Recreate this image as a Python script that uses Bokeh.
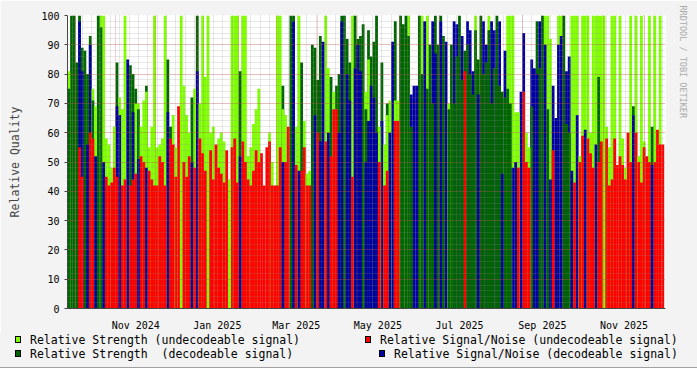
import numpy as np
import pandas as pd
from bokeh.plotting import figure
from bokeh.layouts import column
from bokeh.models import (ColumnDataSource, Range1d, FixedTicker, SingleIntervalTicker,
                          DatetimeTickFormatter, Title, Div)
from bokeh.embed import file_html
from bokeh.resources import INLINE

_ = None
START = "2024-09-26"
STEP_DAYS = 2
RANGE_DAYS = 447

# Relative Strength (undecodeable signal)
strength_undec = [
    81, _, _, _, _, _, _, _, _, 75,
    69, _, 100, 100, 58, 56, 48, 62, _, 72,
    68, 100, _, _, _, 70, 70, 62, 71, 74,
    55, 62, 100, 55, 56, 58, 100, _, _, 66,
    55, _, 100, 76, 66, 60, _, 75, _, 70,
    100, 79, 100, 60, 62, _, 58, 60, 57, _,
    44, 100, 100, 100, _, 100, 100, 52, 55, 63,
    68, 75, _, _, _, 60, 50, _, 100, 100,
    68, 66, _, _, _, 62, 100, _, 64, 46,
    47, _, _, _, _, _, 100, 82, _, 74,
    _, _, _, _, _, _, 100, _, _, _,
    _, 74, 85, _, _, _, 62, _, 56, 66,
    71, _, 71, 71, _, _, _, 100, _, _,
    _, _, 100, _, 100, _, _, _, _, _,
    _, _, 70, _, _, _, _, _, _, _,
    _, _, 100, _, _, _, _, 100, _, _,
    _, _, _, _, 100, 100, 100, 67, 67, _,
    _, 60, 55, _, _, _, _, _, 100, 100,
    92, _, _, 100, 100, _, _, _, 100, 100,
    100, 52, 100, 100, 100, 60, 100, 100, 100, 100,
    100, 62, 55, 100, 100, _, 100, 58, 48, _,
    100, _, 100, 52, 100, 57, _, 100, _, 100,
    _, 100, _,
]

# Relative Signal/Noise (undecodeable signal)
snr_undec = [
    _, _, _, _, 55, 45, _, _, 60, 58,
    _, _, _, _, 45, 42, 43, 48, 45, _,
    42, 44, _, 42, 44, 46, _, 52, 50, _,
    47, 44, 42, 42, 52, 50, 42, _, 58, 56,
    45, 69, _, 50, 45, 52, _, 48, _, 58,
    53, 47, _, 54, 44, 56, 48, 46, 43, 54,
    _, 55, 58, 43, _, 57, 50, 44, 42, 47,
    54, 50, 53, 42, 55, 57, 42, 42, 42, 55,
    _, 50, 62, _, _, 49, _, 47, 55, 42,
    42, _, _, 60, _, _, 57, _, 52, 68,
    68, _, _, _, _, _, 45, _, _, _,
    _, _, _, _, _, _, 50, _, 42, 47,
    _, _, 64, 64, _, _, _, _, _, _,
    _, _, _, _, _, _, _, _, _, _,
    _, _, _, _, _, _, _, _, 81, _,
    _, _, _, _, _, _, _, _, _, _,
    _, _, _, _, _, _, _, _, 48, _,
    74, 50, 48, _, _, _, _, _, _, _,
    _, 54, _, _, _, _, _, _, _, 43,
    _, 50, 59, _, 58, 53, 48, _, 50, 57,
    _, 58, 42, 44, 58, 49, 52, 49, 44, 60,
    50, _, 60, 50, 43, 55, 52, 50, _, 50,
    61, 56, 56,
]

# Relative Strength (decodeable signal)
strength_dec = [
    75, 100, 100, 84, 100, 89, 88, 80, 93, 71,
    _, 100, 96, _, _, _, _, _, 84, _,
    _, _, _, 83, 80, 75, 68, _, _, 76,
    _, _, _, _, _, _, _, 85, 62, _,
    _, _, _, _, _, _, 72, _, 100, _,
    _, _, _, _, _, _, _, _, _, _,
    _, _, _, _, 81, _, _, _, _, _,
    _, _, _, _, _, _, _, _, _, _,
    76, _, _, 100, 100, _, _, 84, _, _,
    _, 90, 89, 78, 93, _, _, _, 79, _,
    76, 80, 100, 100, 92, 84, _, 100, 92, 93,
    97, 68, 95, 86, 91, 100, _, 84, _, 70,
    _, _, 98, _, 100, 97, 100, 93, 62, _,
    _, 100, 80, _, 75, 90, 70, 100, 90, 100,
    93, _, 68, 90, 70, 86, 100, 78, 88, 90,
    80, 73, 95, 85, 100, 80, 84, 95, 70, 82,
    100, 76, 74, 72, 75, 70, _, _, _, _,
    _, _, _, 69, _, 98, 82, 100, _, 68,
    _, _, _, _, _, 100, 63, 60, _, _,
    _, _, _, _, _, _, _, _, 79, _,
    _, _, _, _, _, _, _, _, _, _,
    _, 69, _, _, _, _, _, _, 62, _,
    _, _, _,
]

# Relative Signal/Noise (decodeable signal)
snr_dec = [
    _, _, _, _, 98, 81, _, 56, 90, _,
    52, _, _, 50, _, _, _, _, 69, 66,
    _, _, 85, _, 67, _, 51, _, _, 48,
    _, _, _, _, _, _, _, 67, _, _,
    _, _, _, _, _, _, 50, _, 81, _,
    _, _, _, _, _, _, _, _, _, _,
    _, _, _, _, 52, _, _, _, _, _,
    _, _, _, _, _, _, _, _, _, _,
    50, _, _, _, 98, _, 47, _, _, _,
    _, _, 66, _, 57, 91, _, 60, _, _,
    _, 60, 98, _, 80, 71, _, 82, 90, 81,
    _, 50, 64, 76, 72, 60, _, 64, _, _,
    60, 91, _, _, _, _, _, _, 73, 76,
    76, _, _, 98, _, _, 98, 87, _, 98,
    _, 91, _, _, 98, 97, _, 93, _, 98,
    95, 81, _, 73, _, 98, 90, _, 98, 95,
    _, 98, 46, 88, _, _, 48, 50, _, 74,
    94, _, _, 85, 82, 80, 98, _, 90, _,
    44, 76, 65, 90, 93, _, 81, 86, 47, _,
    66, _, _, 61, _, _, _, 56, _, _,
    _, _, _, _, _, _, _, _, _, _,
    _, 66, _, _, _, _, _, _, 49, _,
    _, _, _,
]

LABEL_MONTHS = ["2024-11", "2025-01", "2025-03", "2025-05", "2025-07", "2025-09", "2025-11"]
LEGEND_LABELS = [
    "Relative Strength (undecodeable signal)",
    "Relative Signal/Noise (undecodeable signal)",
    "Relative Strength  (decodeable signal)",
    "Relative Signal/Noise (decodeable signal)",
]
COLORS = ["#80ff00", "#ff0000", "#006400", "#0000a0"]
SERIES = [strength_undec, snr_undec, strength_dec, snr_dec]

MONO = "DejaVu Sans Mono"
DAY_MS = 86400000.0
BG = "#f3f3f3"

start = pd.Timestamp(START)
end = start + pd.Timedelta(days=RANGE_DAYS)


def ms(ts):
    return float(pd.Timestamp(ts).value // 10**6)


xs, tops, cols = [], [], []
for vals, col in zip(SERIES, COLORS):
    for i, v in enumerate(vals):
        if v is None:
            continue
        xs.append(ms(start) + (STEP_DAYS * i + STEP_DAYS / 2) * DAY_MS)
        tops.append(v)
        cols.append(col)
order = np.argsort(-np.array(tops, dtype=float), kind="stable")
src = ColumnDataSource(dict(
    x=[xs[k] for k in order],
    top=[tops[k] for k in order],
    color=[cols[k] for k in order],
))

p = figure(width=697, height=333, x_axis_type="datetime", output_backend="svg",
           toolbar_location=None, x_range=Range1d(start, end), y_range=Range1d(0, 100),
           min_border_left=67, min_border_right=30, min_border_top=15, min_border_bottom=18)
p.background_fill_color = "white"
p.border_fill_color = BG
p.outline_line_color = None

p.vbar(x="x", top="top", bottom=0, width=STEP_DAYS * DAY_MS * 1.04, source=src,
       fill_color="color", line_color=None)

# grids (drawn above the data as rrdtool does)
month_starts = [ms(d) for d in pd.date_range("2024-10-01", "2025-12-01", freq="MS")]
mondays = [ms(d) for d in pd.date_range(start, end, freq="W-MON")]
p.xgrid.ticker = FixedTicker(ticks=month_starts, minor_ticks=mondays)
p.ygrid.ticker = SingleIntervalTicker(interval=10, num_minor_ticks=5)
for g in (p.xgrid, p.ygrid):
    g.level = "overlay"
    g.grid_line_color = "#d03030"
    g.grid_line_alpha = 0.45
    g.grid_line_dash = "1 1"
    g.minor_grid_line_color = "#8c8c8c"
    g.minor_grid_line_alpha = 0.4
    g.minor_grid_line_dash = "1 1"

# x axis
p.xaxis.ticker = FixedTicker(ticks=[ms(m + "-01") + 15 * DAY_MS for m in LABEL_MONTHS])
p.xaxis.formatter = DatetimeTickFormatter(days="%b %Y", months="%b %Y", years="%b %Y")
p.xaxis.major_tick_line_color = None
p.xaxis.minor_tick_line_color = None
p.xaxis.major_label_standoff = 5
p.xaxis.axis_line_color = "#444444"

# y axis
p.yaxis.ticker = SingleIntervalTicker(interval=10, num_minor_ticks=5)
p.yaxis.minor_tick_line_color = None
p.yaxis.major_tick_out = 3
p.yaxis.major_tick_in = 0
p.yaxis.major_tick_line_color = "#444444"
p.yaxis.axis_line_color = "#444444"
p.yaxis.major_label_standoff = 4
p.yaxis.axis_label = "Relative Quality"
p.yaxis.axis_label_standoff = 16
p.yaxis.axis_label_text_font = MONO
p.yaxis.axis_label_text_font_style = "normal"
p.yaxis.axis_label_text_font_size = "11.5px"
for ax in (p.xaxis, p.yaxis):
    ax.major_label_text_font = MONO
    ax.major_label_text_font_size = "10px"
    ax.major_label_text_color = "black"

p.add_layout(Title(text="RRDTOOL / TOBI OETIKER", align="left", text_font=MONO,
                   text_font_size="8.5px", text_color="#aaaaaa", text_font_style="normal",
                   vertical_align="top", standoff=20, offset=-10), "right")

# legend strip (two rows, rrdtool style) below the chart
legend_slots = [(15, 2), (365, 2), (15, 16), (379, 16)]  # (left px, top px) per entry
parts = []
for label, col, (lx, ty) in zip(LEGEND_LABELS, COLORS, legend_slots):
    parts.append(
        f'<span style="position:absolute;left:{lx}px;top:{ty + 1}px;width:6px;height:7px;'
        f'background:{col};border:1px solid #000;"></span>'
        f'<span style="position:absolute;left:{lx + 15}px;top:{ty - 1}px;line-height:13px;'
        f'white-space:pre;">{label}</span>')
html = (f'<div style="position:relative;width:697px;height:35px;background:{BG};'
        f'font-family:\'{MONO}\';font-size:11.5px;color:#000;'
        f'border-bottom:1px solid #a0a0a0;box-sizing:border-box;">' + "".join(parts) + "</div>")
legend_div = Div(text=html, width=697, height=35, margin=(0, 0, 0, 0))

open("out.html", "w").write(file_html(column(p, legend_div, spacing=0), INLINE))
